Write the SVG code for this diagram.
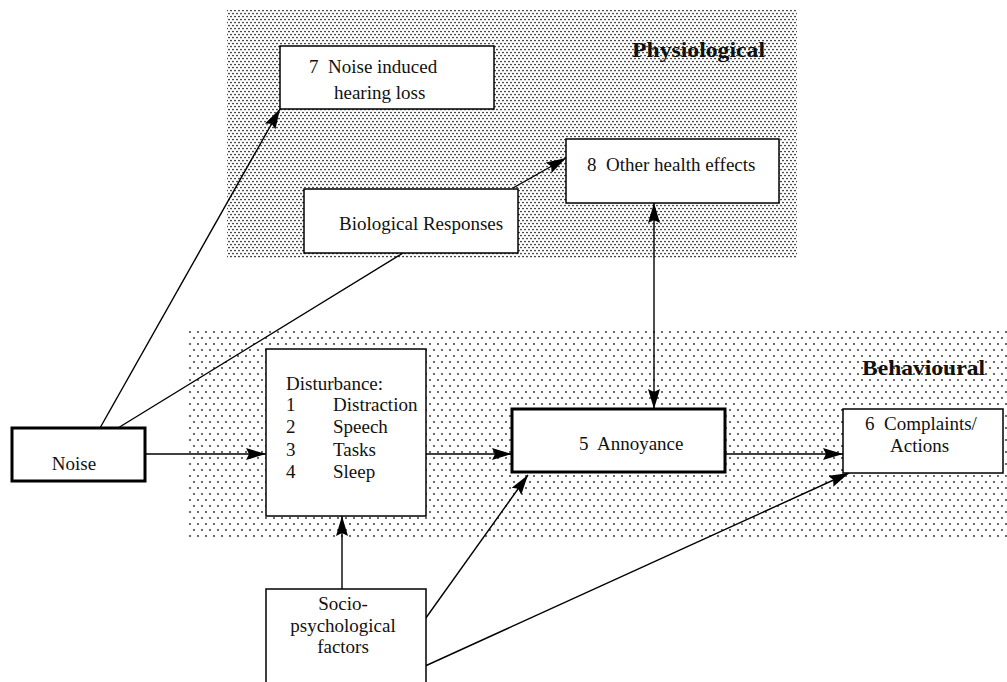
<svg xmlns="http://www.w3.org/2000/svg" width="1007" height="682" viewBox="0 0 1007 682">
<style>
.box{fill:#fff;stroke:#000;stroke-width:1.5}
.thick{fill:#fff;stroke:#000;stroke-width:3}
.t{font-family:"Liberation Serif","Times New Roman",serif;font-size:19px;fill:#111;white-space:pre}
.lbl{font-family:"Liberation Serif","Times New Roman",serif;font-size:22px;font-weight:bold;fill:#111}
.c{stroke:#000;stroke-width:1.4;fill:none}
</style>
<defs>
<pattern id="dense" width="4" height="6" patternUnits="userSpaceOnUse">
<circle cx="1" cy="1.5" r="0.85" fill="#111"/>
<circle cx="3" cy="4.5" r="0.85" fill="#111"/>
</pattern>
<pattern id="sparse" width="8" height="12" patternUnits="userSpaceOnUse">
<circle cx="2" cy="2" r="0.9" fill="#222"/>
<circle cx="6" cy="8" r="0.9" fill="#222"/>
</pattern>
<marker id="ah" markerWidth="20" markerHeight="12" refX="20" refY="6" orient="auto-start-reverse" markerUnits="userSpaceOnUse">
<path d="M0,0 L20,6 L0,12 L3,6 z" fill="#000"/>
</marker>
</defs>
<g id="regions">
<rect x="227" y="10" width="570" height="248" fill="url(#dense)"/>
<rect x="188" y="327" width="819" height="210" fill="url(#sparse)"/>
<text class="lbl" x="632" y="57" textLength="133" lengthAdjust="spacingAndGlyphs">Physiological</text>
<text class="lbl" x="862" y="375" textLength="123" lengthAdjust="spacingAndGlyphs">Behavioural</text>
</g>
<g id="connectors">
<line class="c" x1="100" y1="428" x2="280" y2="109" marker-end="url(#ah)"/>
<line class="c" x1="118" y1="428" x2="403" y2="253"/>
<line class="c" x1="513" y1="188" x2="566" y2="158" marker-end="url(#ah)"/>
<line class="c" x1="654" y1="203" x2="654" y2="409" marker-start="url(#ah)" marker-end="url(#ah)"/>
<line class="c" x1="145" y1="454" x2="266" y2="454" marker-end="url(#ah)"/>
<line class="c" x1="421" y1="454" x2="512" y2="454" marker-end="url(#ah)"/>
<line class="c" x1="725" y1="454" x2="843" y2="454" marker-end="url(#ah)"/>
<line class="c" x1="342" y1="594" x2="342" y2="516" marker-end="url(#ah)"/>
<line class="c" x1="423" y1="622" x2="528" y2="475" marker-end="url(#ah)"/>
<line class="c" x1="423" y1="667" x2="849" y2="473" marker-end="url(#ah)"/>
</g>
<g id="node-noise">
<rect class="thick" x="12" y="428" width="133" height="53"/>
<text class="t" x="74" y="470" text-anchor="middle">Noise</text>
</g>
<g id="node-hearing">
<rect class="box" x="280" y="46" width="214" height="63"/>
<text class="t" x="309" y="73">7  Noise induced</text>
<text class="t" x="334" y="99">hearing loss</text>
</g>
<g id="node-health">
<rect class="box" x="566" y="139" width="213" height="64"/>
<text class="t" x="587" y="171">8  Other health effects</text>
</g>
<g id="node-bio">
<rect class="box" x="304" y="189" width="214" height="64"/>
<text class="t" x="339" y="230">Biological Responses</text>
</g>
<g id="node-disturbance">
<rect class="box" x="266" y="349" width="160" height="167"/>
<text class="t" x="286" y="390">Disturbance:</text>
<text class="t" x="286" y="411">1</text><text class="t" x="333" y="411">Distraction</text>
<text class="t" x="286" y="433">2</text><text class="t" x="333" y="433">Speech</text>
<text class="t" x="286" y="456">3</text><text class="t" x="333" y="456">Tasks</text>
<text class="t" x="286" y="478">4</text><text class="t" x="333" y="478">Sleep</text>
</g>
<g id="node-annoyance">
<rect class="thick" x="512" y="409" width="213" height="63"/>
<text class="t" x="579" y="450">5  Annoyance</text>
</g>
<g id="node-complaints">
<rect class="box" x="843" y="409" width="160" height="64"/>
<text class="t" x="865" y="430">6  Complaints/</text>
<text class="t" x="890" y="452">Actions</text>
</g>
<g id="node-socio">
<rect class="box" x="266" y="589" width="160" height="100"/>
<text class="t" x="343" y="610" text-anchor="middle">Socio-</text>
<text class="t" x="343" y="632" text-anchor="middle">psychological</text>
<text class="t" x="343" y="653" text-anchor="middle">factors</text>
</g>
</svg>
